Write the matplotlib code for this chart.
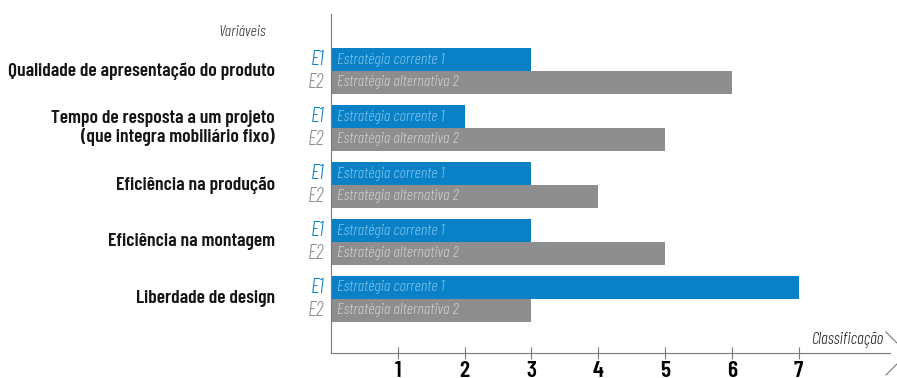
import numpy as np
import matplotlib.pyplot as plt

variaveis = ['Qualidade de apresentação do produto',
             'Tempo de resposta a um projeto\n(que integra mobiliário fixo)',
             'Eficiência na produção',
             'Eficiência na montagem',
             'Liberdade de design']
e1 = [3, 2, 3, 3, 7]
e2 = [6, 5, 4, 5, 3]
e1_nome = 'Estratégia corrente 1'
e2_nome = 'Estratégia alternativa 2'
ticks = [1, 2, 3, 4, 5, 6, 7]

plt.rcParams['font.family'] = ['Barlow Condensed', 'DejaVu Sans']

azul = '#0a80c6'
cinza = '#8e8e8e'
eixo = '#7a7a7a'

fig = plt.figure(figsize=(8.97, 3.78), dpi=100)
ax = fig.add_axes([331/897, 25/378, 559/897, 339/378])

y = np.arange(len(variaveis))
h = 0.4
ax.barh(y - 0.2, e1, height=h, color=azul)
ax.barh(y + 0.2, e2, height=h, color=cinza)
ax.set_xlim(0, 8.37)
ax.set_ylim(4.95, -1.0)

for i in range(len(variaveis)):
    ax.text(0.09, y[i] - 0.2, e1_nome, va='center', ha='left', fontsize=11.5,
            style='italic', fontweight=300, color='#7cc6f0')
    ax.text(0.09, y[i] + 0.2, e2_nome, va='center', ha='left', fontsize=11.5,
            style='italic', fontweight=300, color='#cfcfcf')
    ax.text(-0.1, y[i] - 0.2, 'E1', va='center', ha='right', fontsize=15,
            style='italic', fontweight=300, color=azul)
    ax.text(-0.1, y[i] + 0.2, 'E2', va='center', ha='right', fontsize=15,
            style='italic', fontweight=300, color=cinza)
    ax.text(-0.84, y[i], variaveis[i], va='center', ha='right', fontsize=14,
            fontweight=600, color='#151515', linespacing=1.1)

ax.text(-0.98, -0.68, 'Variáveis', ha='right', va='center', fontsize=11.5,
        style='italic', fontweight=300, color='#333333')
ax.text(8.27, 4.72, 'Classificação', ha='right', va='center', fontsize=12,
        style='italic', fontweight=300, color='#222222')

for s in ['top', 'right']:
    ax.spines[s].set_visible(False)
ax.spines['left'].set_color(eixo)
ax.spines['bottom'].set_color(eixo)
ax.set_yticks([])
ax.set_xticks(ticks)
ax.set_xticklabels([str(t) for t in ticks], fontsize=17, fontweight=600)
ax.tick_params(axis='x', direction='inout', length=9, color=eixo, pad=1.5)

# ponta da seta do eixo
fig.add_artist(plt.Line2D([886/897, 897/897], [1-332/378, 1-343/378],
                          color=eixo, lw=0.8))
fig.add_artist(plt.Line2D([886/897, 897/897], [1-375/378, 1-364/378],
                          color=eixo, lw=0.8))

fig.savefig('out.png', dpi=100)
